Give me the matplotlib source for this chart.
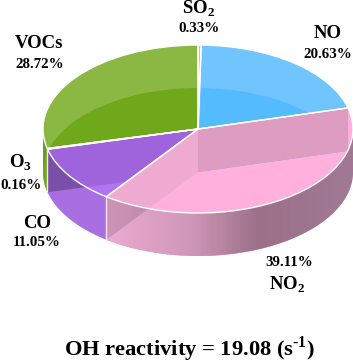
import numpy as np
import matplotlib
matplotlib.use("Agg")
import matplotlib.pyplot as plt
from matplotlib.colors import LinearSegmentedColormap
from matplotlib.patches import Polygon

plt.rcParams['font.family'] = ['Liberation Serif', 'DejaVu Serif']
plt.rcParams['mathtext.fontset'] = 'custom'
plt.rcParams['mathtext.bf'] = 'Liberation Serif:bold'
plt.rcParams['mathtext.rm'] = 'Liberation Serif:bold'

# data (clockwise from the top)
species = ['SO2', 'NO', 'NO2', 'CO', 'O3', 'VOCs']
shares = [0.33, 20.63, 39.11, 11.05, 0.16, 28.72]
total_label = 'OH reactivity = 19.08 (s$^{\\mathbf{\u20101}}$)'

# colours
top_colors = ['#f2c24a', '#70c5ff', '#ffb0dc', '#b272f6', '#7a4fa8', '#8bb842']
floor_colors = ['none', '#55bbff', 'none', 'none', 'none', '#70a81c']
side_colors = ['#f2c24a', '#70c5ff', '#e5a2cb', '#a96fe2', '#7a4fa8', '#6c9c22']

W, H = 353, 363
CX, CY, RX, RY, DEPTH = 198, 129, 155, 84, 43
d = DEPTH / RY

fig = plt.figure(figsize=(W / 100, H / 100), dpi=100)
ax = fig.add_axes([0, 0, 1, 1])

edges = np.concatenate([[0], np.cumsum(shares)]) * 3.6


def rim(theta_deg):
    t = np.radians(theta_deg)
    return np.sin(t), np.cos(t)


def radial_wall(theta_deg):
    x, y = rim(theta_deg)
    return [(0, 0), (x, y), (x, y - d), (0, -d)]


def front_wall(a0, a1):
    a0, a1 = max(a0, 90), min(a1, 270)
    if a1 <= a0:
        return None
    th = np.linspace(a0, a1, 80)
    x, y = rim(th)
    return np.vstack([np.column_stack([x, y]),
                      np.column_stack([x[::-1], y[::-1] - d])])


pie_kw = dict(startangle=90, counterclock=False, radius=1)
top, _ = ax.pie(shares, colors=top_colors, **pie_kw)
floor, _ = ax.pie(shares, colors=floor_colors, center=(0, -d), **pie_kw)
for w, f in zip(top, floor):
    w.set_zorder(1)
    f.set_zorder(2)
    f.set_clip_path(w)

# walls seen through the top surface
i_no, i_no2, i_co, i_o3, i_voc = 1, 2, 3, 4, 5
p = ax.add_patch(Polygon(radial_wall(edges[i_no2]), fc='#dd9cc0', ec='none', zorder=3))
p.set_clip_path(top[i_no2])
p = ax.add_patch(Polygon(radial_wall(edges[i_no2 + 1]), fc='#eeaad0', ec='none', zorder=3))
p.set_clip_path(top[i_no2])
p = ax.add_patch(Polygon(radial_wall(edges[i_co + 1]), fc='#9f63dc', ec='none', zorder=3))
p.set_clip_path(top[i_co])

# outer side wall
walls = {}
for i in range(len(shares)):
    v = front_wall(edges[i], edges[i + 1])
    if v is None:
        continue
    walls[i] = ax.add_patch(Polygon(v, fc=side_colors[i], ec='none', zorder=1))

# shaded side of NO2
cmap = LinearSegmentedColormap.from_list(
    'side', [(0, '#a07a95'), (0.38, '#9c7089'), (0.66, '#d097b8'), (1, '#ecaad2')])
grad = np.linspace(1, 0, 256)[None, :]
xlim = (-CX / RX, (W - CX) / RX)
ylim = (-(H - CY) / RY, CY / RY)
x0, _ = rim(edges[i_no2 + 1])
im = ax.imshow(grad, cmap=cmap, extent=(x0, 1, -2, 1), aspect='auto', zorder=1.5)
im.set_clip_path(walls[i_no2])

# inner walls seen through the side
p = ax.add_patch(Polygon(radial_wall(edges[i_no2 + 1]), fc='#000000', alpha=0.13, ec='none', zorder=3))
p.set_clip_path(walls[i_no2])
p = ax.add_patch(Polygon(radial_wall(edges[i_co + 1]), fc='#7a4fa8', ec='none', zorder=3))
p.set_clip_path(walls[i_co])

# outlines
ax.pie(shares, wedgeprops=dict(fill=False, edgecolor='white', linewidth=1.0, zorder=5), **pie_kw)
for i in (i_no2, i_co, i_voc):
    x, y = rim(edges[i])
    if 90 <= edges[i] <= 270:
        ax.plot([x, x], [y, y - d], color='#f6e6f4', lw=1.0, zorder=5)

ax.set_aspect('auto')
ax.set_xlim(*xlim)
ax.set_ylim(*ylim)
ax.axis('off')


def label(px, py, s, size=10.8):
    fig.text(px / W, 1 - py / H, s, ha='center', va='center', fontsize=size,
             fontweight='bold', color='black')


name_size = 13.5
label(199, 9, 'SO$_{\\mathbf{2}}$', name_size)
label(199, 28, f'{shares[0]:.2f}%')
label(328, 34, species[1], name_size)
label(328, 54, f'{shares[1]:.2f}%')
label(39, 43, species[5], name_size)
label(40, 64, f'{shares[5]:.2f}%')
label(20, 163, 'O$_{\\mathbf{3}}$', name_size)
label(21, 186, f'{shares[4]:.2f}%')
label(37, 224, species[3], name_size)
label(37, 243, f'{shares[3]:.2f}%')
label(289, 263, f'{shares[2]:.2f}%')
label(287, 285, 'NO$_{\\mathbf{2}}$', name_size)
label(189, 349, total_label, 16.2)

fig.savefig('out.png', dpi=100)
